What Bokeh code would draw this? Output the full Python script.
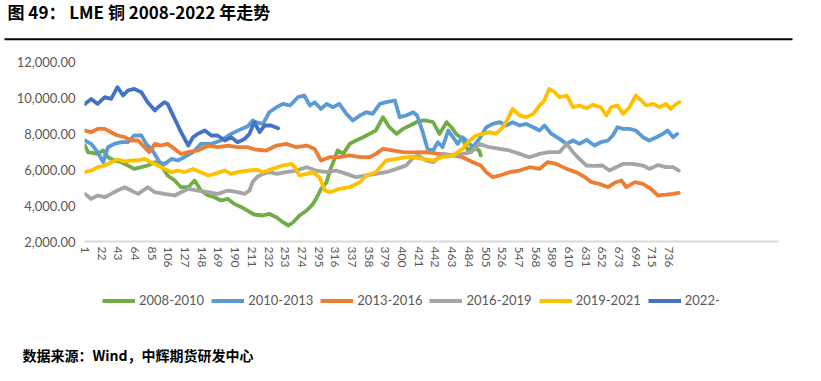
from bokeh.plotting import figure
from bokeh.layouts import column
from bokeh.models import (Range1d, FixedTicker, NumeralTickFormatter, Legend, LegendItem,
                          Label, BoxAnnotation)
from bokeh.embed import file_html
from bokeh.resources import INLINE

# ---------------- data ----------------
series_names = ["2008-2010", "2010-2013", "2013-2016", "2016-2019", "2019-2021", "2022-"]
series_colors = ["#70AD47", "#5B9BD5", "#ED7D31", "#A5A5A5", "#FFC000", "#4472C4"]

x_tick_labels = [1, 22, 43, 64, 85, 106, 127, 148, 169, 190, 211, 232, 253, 274, 295, 316, 337,
                 358, 379, 400, 421, 442, 463, 484, 505, 526, 547, 568, 589, 610, 631, 652, 673,
                 694, 715, 736]
y_ticks = [2000, 4000, 6000, 8000, 10000, 12000]

g_x = [1, 5, 17, 24, 30, 38, 47, 55, 63, 72, 80, 89, 97, 105, 114, 122, 131, 139, 147, 156, 164,
       172, 181, 189, 198, 206, 214, 225, 233, 242, 250, 257, 263, 271, 280, 288, 294, 298, 305,
       310, 315, 319, 326, 334, 342, 351, 359, 367, 376, 384, 393, 401, 410, 418, 426, 430, 439,
       447, 456, 462, 468, 476, 483, 489, 497, 499]
g_y = [7333, 6961, 6867, 7056, 6683, 6500, 6406, 6222, 6033, 6128, 6222, 6406, 6222, 5667, 5389,
       5017, 5017, 5389, 4833, 4556, 4461, 4278, 4367, 4089, 3906, 3700, 3500, 3444, 3533, 3350,
       3072, 2889, 3072, 3444, 3722, 4089, 4556, 4922, 5294, 6033, 6589, 7056, 6867, 7422, 7611,
       7794, 7978, 8167, 8906, 8350, 7978, 8256, 8444, 8628, 8722, 8722, 8628, 7978, 8628, 8350,
       7978, 7700, 7056, 7239, 7056, 6778]

lb_x = [1, 9, 17, 24, 30, 38, 47, 55, 63, 72, 78, 86, 95, 101, 110, 118, 126, 137, 147, 160, 172,
        185, 198, 206, 212, 218, 225, 233, 242, 250, 259, 269, 277, 284, 290, 298, 305, 313, 321,
        330, 338, 347, 355, 363, 372, 380, 391, 397, 405, 414, 419, 426, 432, 439, 445, 451, 458,
        464, 470, 476, 483, 489, 497, 506, 514, 523, 531, 539, 548, 556, 565, 573, 579, 588, 598,
        607, 615, 623, 632, 642, 650, 659, 665, 671, 678, 686, 694, 703, 711, 720, 728, 734, 741,
        746]
lb_y = [7611, 7422, 6961, 6406, 7239, 7422, 7517, 7517, 7889, 7889, 7422, 7056, 6400, 6300, 6589,
        6500, 6683, 6961, 7422, 7422, 7611, 7978, 8256, 8400, 8722, 8600, 8533, 9183, 9461, 9644,
        9556, 10017, 10111, 9556, 9739, 9367, 9644, 9461, 9644, 9089, 8722, 9000, 9183, 9089, 9644,
        9739, 9833, 8906, 9000, 9183, 9000, 8072, 7144, 7056, 7517, 7239, 8167, 7794, 7422, 7794,
        7517, 7239, 7700, 8350, 8533, 8628, 8444, 8628, 8444, 8533, 8350, 8167, 8444, 7978, 7700,
        7422, 7611, 7422, 7650, 7333, 7517, 7611, 7889, 8350, 8256, 8256, 8167, 7794, 7611, 7794,
        7978, 8167, 7794, 7978]

o_x = [1, 9, 17, 26, 34, 42, 51, 59, 68, 76, 82, 89, 97, 105, 114, 122, 131, 143, 156, 168, 181,
       193, 206, 216, 229, 242, 254, 267, 280, 290, 298, 309, 321, 334, 347, 359, 367, 376, 388,
       401, 414, 430, 447, 464, 476, 489, 499, 506, 514, 523, 535, 548, 560, 573, 583, 594, 607,
       619, 630, 638, 648, 659, 669, 676, 682, 693, 703, 713, 722, 732, 741, 748]
o_y = [8167, 8072, 8256, 8256, 8072, 7889, 7794, 7611, 7611, 7239, 6961, 7422, 7333, 7422, 7144,
       6867, 6961, 7056, 7333, 7239, 7333, 7239, 7239, 7100, 7056, 7333, 7422, 7239, 7333, 7144,
       6500, 6683, 6683, 6778, 6683, 6683, 6867, 7144, 7056, 6961, 6950, 6961, 6867, 6778, 6683,
       6406, 6222, 5850, 5572, 5667, 5850, 5944, 6128, 6033, 6406, 6311, 6033, 5850, 5572, 5300,
       5200, 5017, 5294, 5389, 5017, 5294, 5200, 4922, 4556, 4600, 4650, 4700]

gr_x = [1, 9, 17, 26, 34, 42, 51, 59, 68, 74, 80, 89, 101, 114, 122, 131, 143, 156, 168, 181, 193,
        202, 208, 212, 218, 225, 233, 242, 254, 267, 280, 292, 305, 317, 330, 342, 355, 367, 380,
        393, 405, 414, 420, 430, 439, 451, 464, 476, 487, 497, 510, 523, 535, 548, 560, 573, 585,
        598, 607, 615, 623, 632, 640, 652, 661, 669, 678, 690, 703, 711, 722, 732, 741, 748]
gr_y = [4644, 4367, 4556, 4461, 4644, 4833, 5017, 4833, 4644, 4833, 5017, 4739, 4644, 4556, 4739,
        4922, 4833, 4739, 4644, 4833, 4739, 4644, 4833, 5300, 5600, 5756, 5850, 5756, 5850, 5944,
        6128, 5944, 5850, 5944, 5756, 5572, 5667, 5756, 5850, 6033, 6222, 6650, 6800, 6500, 6406,
        6867, 6778, 6867, 6961, 7422, 7239, 7144, 7056, 6867, 6683, 6867, 6961, 6961, 7422, 6961,
        6589, 6222, 6200, 6222, 5944, 6128, 6311, 6311, 6222, 6033, 6250, 6128, 6128, 5944]

y_x = [1, 9, 17, 26, 34, 42, 51, 59, 68, 76, 84, 93, 101, 110, 118, 126, 137, 147, 156, 164, 177,
       185, 193, 206, 218, 225, 237, 250, 261, 265, 271, 280, 288, 296, 303, 309, 321, 334, 347,
       355, 367, 380, 393, 405, 414, 426, 439, 451, 464, 476, 485, 493, 501, 510, 518, 527, 533,
       539, 548, 556, 565, 573, 579, 585, 592, 598, 607, 615, 623, 632, 640, 650, 657, 663, 671,
       678, 686, 694, 701, 707, 716, 724, 732, 738, 745, 749]
y_y = [5850, 5944, 6128, 6222, 6406, 6556, 6450, 6500, 6500, 6589, 6406, 6222, 6033, 5850, 5944,
       5850, 6033, 5850, 5667, 5756, 5944, 5756, 5850, 5944, 5980, 5850, 6033, 6222, 6311, 6128,
       5667, 5756, 5850, 5572, 4833, 4739, 4922, 5017, 5294, 5667, 5850, 6500, 6589, 6683, 6700,
       6589, 6500, 6683, 6778, 7144, 7611, 7889, 7978, 8072, 7978, 8350, 8811, 9367, 9000, 8906,
       9089, 9556, 9833, 10478, 10294, 10017, 10111, 9461, 9556, 9400, 9600, 9461, 9000, 9461,
       9556, 9089, 9461, 10111, 9833, 9556, 9644, 9461, 9644, 9367, 9644, 9739]

db_x = [1, 9, 17, 26, 34, 42, 49, 55, 63, 72, 80, 89, 93, 101, 105, 114, 122, 131, 137, 143, 152,
        160, 168, 177, 185, 193, 202, 208, 214, 221, 227, 235, 244]
db_y = [9644, 9922, 9644, 10017, 9922, 10572, 10111, 10389, 10478, 10294, 9739, 9278, 9461, 9739,
        9644, 8811, 8072, 7333, 7794, 7978, 8167, 7889, 7889, 7611, 7794, 7517, 7700, 7978, 8628,
        8072, 8444, 8444, 8294]

all_x = [g_x, lb_x, o_x, gr_x, y_x, db_x]
all_y = [g_y, lb_y, o_y, gr_y, y_y, db_y]
n_categories = 873

title_text = "图 49：  LME 铜 2008-2022 年走势"
source_text = "数据来源：Wind，中辉期货研发中心"

W = 805
LW = 3.8


def bare(fig):
    fig.outline_line_color = None
    fig.xgrid.visible = False
    fig.ygrid.visible = False
    fig.frame_align = False
    return fig


# ---------------- header (title + rule) ----------------
HH = 50
head = bare(figure(width=W, height=HH, output_backend="svg", toolbar_location=None,
                   x_range=Range1d(0, W), y_range=Range1d(HH, 0),
                   x_axis_type=None, y_axis_type=None, min_border=0,
                   background_fill_color="white", border_fill_color="white"))
head.add_layout(Label(x=7, y=11, text=title_text, text_font="Noto Sans CJK SC",
                      text_font_style="bold", text_font_size="17px", text_color="#000000",
                      text_baseline="middle", text_align="left"))
head.add_layout(BoxAnnotation(left=4, right=792, top=37.7, bottom=39.7,
                              fill_color="#000000", fill_alpha=1.0, line_color=None))

# ---------------- main chart ----------------
MH = 232
p = bare(figure(width=W, height=MH, output_backend="svg", toolbar_location=None,
                x_range=Range1d(0.5, n_categories + 0.5), y_range=Range1d(2000, 12000),
                min_border_left=84, min_border_right=27, min_border_top=11, min_border_bottom=41,
                background_fill_color="white", border_fill_color="white"))

for xs, ys, c in zip(all_x, all_y, series_colors):
    p.line(xs, ys, line_color=c, line_width=LW, line_join="round", line_cap="round")

ax = p.xaxis[0]
ax.ticker = FixedTicker(ticks=x_tick_labels)
ax.major_label_orientation = "vertical"
ax.axis_line_color = "#D9D9D9"
ax.axis_line_width = 2
ax.major_tick_line_color = None
ax.minor_tick_line_color = None
ax.major_tick_out = 0
ax.major_label_text_font = "Lato"
ax.major_label_text_font_size = "12px"
ax.major_label_text_color = "#595959"
ax.major_label_standoff = 5

ay = p.yaxis[0]
ay.ticker = FixedTicker(ticks=y_ticks)
ay.formatter = NumeralTickFormatter(format="0,0.00")
ay.axis_line_color = None
ay.major_tick_line_color = None
ay.minor_tick_line_color = None
ay.major_tick_out = 0
ay.major_label_text_font = "Lato"
ay.major_label_text_font_size = "13px"
ay.major_label_text_color = "#595959"
ay.major_label_standoff = 9

# ---------------- footer (legend + source) ----------------
FH = 365 - HH - MH
foot = bare(figure(width=W, height=FH, output_backend="svg", toolbar_location=None,
                   x_range=Range1d(0, W), y_range=Range1d(FH, 0),
                   x_axis_type=None, y_axis_type=None, min_border=0,
                   background_fill_color="white", border_fill_color="white"))
nan = float("nan")
keys = [foot.line([nan], [nan], line_color=c, line_width=LW) for c in series_colors]
legend = Legend(items=[LegendItem(label=n, renderers=[r]) for n, r in zip(series_names, keys)],
                orientation="horizontal", location=(102, FH - 26.5),
                glyph_width=33, glyph_height=17, label_height=17, label_standoff=4, spacing=7,
                padding=0, margin=0, border_line_color=None, background_fill_alpha=0,
                label_text_font="Lato", label_text_font_size="13px", label_text_color="#595959")
foot.add_layout(legend, "center")
foot.add_layout(Label(x=22, y=FH - 11, text=source_text, text_font="Noto Sans CJK SC",
                      text_font_style="bold", text_font_size="14px", text_color="#000000",
                      text_baseline="middle", text_align="left"))

layout = column(head, p, foot, spacing=0)
open("out.html", "w").write(file_html(layout, INLINE))
